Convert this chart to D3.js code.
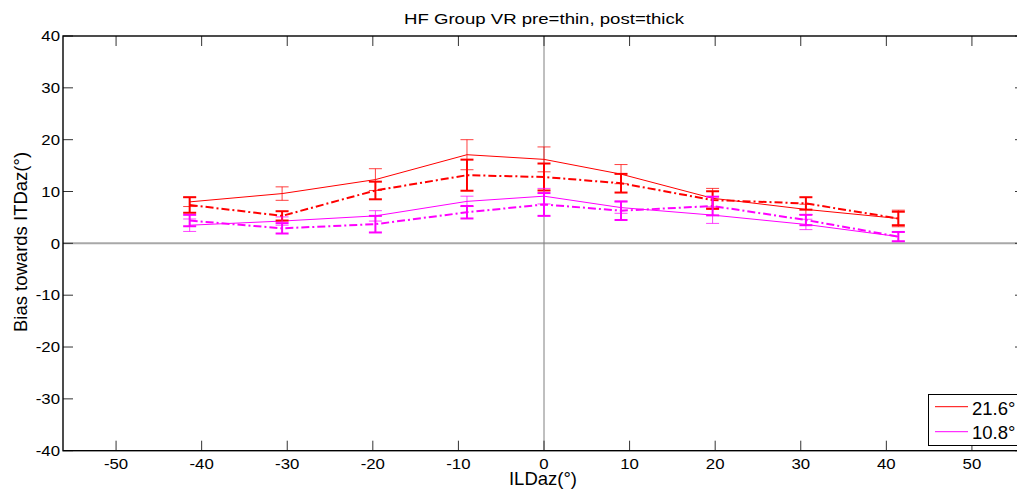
<!DOCTYPE html>
<html>
<head>
<meta charset="utf-8">
<script src="https://cdn.jsdelivr.net/npm/d3@7"></script>
<style>
  html, body { margin: 0; padding: 0; background: #fff; }
  svg { display: block; }
  text { font-family: "Liberation Sans", Arial, Helvetica, sans-serif; fill: #000; }
</style>
</head>
<body>
<svg id="chart" width="1017" height="495"></svg>
<script>
// ILD azimuths at which bias was measured
const ildAz = [-41.4, -30.6, -19.7, -9.0, 0, 9.0, 19.7, 30.6, 41.4];

// 21.6° condition: pre (thin solid) and post (thick dash-dot)
const pre216 = [8.0, 9.6, 12.3, 17.1, 16.2, 13.35, 8.7, 6.55, 4.8];
const pre216Err = [0.9, 1.3, 2.1, 2.9, 2.4, 1.85, 1.9, 1.0, 1.6];
const post216 = [7.4, 5.3, 10.2, 13.15, 12.8, 11.6, 8.35, 7.7, 4.8];
const post216Err = [1.5, 0.9, 1.7, 3.0, 2.6, 1.8, 1.7, 1.2, 1.3];

// 10.8° condition: pre (thin solid) and post (thick dash-dot)
const pre108 = [3.5, 4.3, 5.3, 8.1, 9.1, 6.9, 5.45, 3.65, 1.3];
const pre108Err = [1.2, 0.8, 1.0, 1.0, 1.5, 1.1, 1.6, 1.0, 0.9];
const post108 = [4.4, 2.9, 3.7, 6.0, 7.5, 6.3, 7.2, 4.5, 1.3];
const post108Err = [1.1, 1.0, 1.6, 1.2, 2.2, 1.8, 1.8, 1.0, 0.9];

// Axis ticks and labels
const xTicks = [-50, -40, -30, -20, -10, 0, 10, 20, 30, 40, 50];
const yTicks = [-40, -30, -20, -10, 0, 10, 20, 30, 40];
const legendLabels = ["21.6°", "10.8°"];
const titleText = "HF Group VR pre=thin, post=thick";
const xLabel = "ILDaz(°)";
const yLabel = "Bias towards ITDaz(°)";

const RED = "#ff0000", MAG = "#ff00ff";
const series = [
  { y: pre216, e: pre216Err, color: RED, w: 1, dash: null },
  { y: post216, e: post216Err, color: RED, w: 2, dash: "8,3,2,3" },
  { y: pre108, e: pre108Err, color: MAG, w: 1, dash: null },
  { y: post108, e: post108Err, color: MAG, w: 2, dash: "8,3,2,3" }
];

const svg = d3.select("#chart");
const plotLeft = 63, plotRight = 1025, plotTop = 36, plotBottom = 450.7;

const x = d3.scaleLinear().domain([-56.2, 56.2]).range([plotLeft, plotRight]);
const y = d3.scaleLinear().domain([-40, 40]).range([plotBottom, plotTop]);

svg.append("rect").attr("width", 1017).attr("height", 495).attr("fill", "#fff");

// Zero reference lines
svg.append("line")
  .attr("x1", plotLeft).attr("x2", plotRight)
  .attr("y1", y(0)).attr("y2", y(0))
  .attr("stroke", "#a8a8a8").attr("stroke-width", 2);
svg.append("line")
  .attr("x1", x(0)).attr("x2", x(0))
  .attr("y1", plotTop).attr("y2", plotBottom)
  .attr("stroke", "#808080").attr("stroke-width", 1);

// Tick marks pointing inward on all four sides
const tickLen = 10;
const tickG = svg.append("g").attr("stroke", "#333").attr("stroke-width", 1);
xTicks.forEach(t => {
  tickG.append("line").attr("x1", x(t)).attr("x2", x(t)).attr("y1", plotBottom).attr("y2", plotBottom - tickLen);
  tickG.append("line").attr("x1", x(t)).attr("x2", x(t)).attr("y1", plotTop).attr("y2", plotTop + tickLen);
});
yTicks.forEach(t => {
  tickG.append("line").attr("x1", plotLeft).attr("x2", plotLeft + tickLen).attr("y1", y(t)).attr("y2", y(t));
  tickG.append("line").attr("x1", plotRight).attr("x2", plotRight - tickLen).attr("y1", y(t)).attr("y2", y(t));
});

// Box around the axes
svg.append("rect")
  .attr("x", plotLeft).attr("y", plotTop)
  .attr("width", plotRight - plotLeft).attr("height", plotBottom - plotTop)
  .attr("fill", "none").attr("stroke", "#000").attr("stroke-width", 1.4);

// Tick labels (slightly wide glyphs)
const tickFont = 15, tickScale = 1.12;
xTicks.forEach(t => {
  svg.append("text")
    .attr("transform", `translate(${x(t)},469) scale(${tickScale},1)`)
    .attr("text-anchor", "middle").attr("font-size", tickFont)
    .text(t);
});
yTicks.forEach(t => {
  svg.append("text")
    .attr("transform", `translate(60,${y(t) + 5.3}) scale(${tickScale},1)`)
    .attr("text-anchor", "end").attr("font-size", tickFont)
    .text(t);
});

// Data lines
const line = d3.line().x((d, i) => x(ildAz[i])).y(d => y(d));
series.forEach(s => {
  svg.append("path")
    .datum(s.y)
    .attr("d", line)
    .attr("fill", "none")
    .attr("stroke", s.color)
    .attr("stroke-width", s.w)
    .attr("stroke-dasharray", s.dash);
});

// Error bars with caps
const capHalf = 6.5;
series.forEach(s => {
  const g = svg.append("g").attr("stroke", s.color).attr("stroke-width", s.w)
    .attr("stroke-opacity", s.w === 1 ? 0.75 : 1);
  s.y.forEach((v, i) => {
    const cx = x(ildAz[i]);
    const hi = y(v + s.e[i]), lo = y(v - s.e[i]);
    g.append("line").attr("x1", cx).attr("x2", cx).attr("y1", hi).attr("y2", lo);
    g.append("line").attr("x1", cx - capHalf).attr("x2", cx + capHalf).attr("y1", hi).attr("y2", hi);
    g.append("line").attr("x1", cx - capHalf).attr("x2", cx + capHalf).attr("y1", lo).attr("y2", lo);
  });
});

// Title and axis labels
svg.append("text")
  .attr("transform", "translate(544,24.3) scale(1.2,1)")
  .attr("text-anchor", "middle").attr("font-size", 15.5)
  .text(titleText);
svg.append("text")
  .attr("x", 543).attr("y", 485)
  .attr("text-anchor", "middle").attr("font-size", 18.5)
  .text(xLabel);
svg.append("text")
  .attr("transform", "translate(27,242) rotate(-90)")
  .attr("text-anchor", "middle").attr("font-size", 18.5)
  .text(yLabel);

// Legend
const leg = svg.append("g");
leg.append("rect")
  .attr("x", 928.5).attr("y", 394.5)
  .attr("width", 110).attr("height", 51)
  .attr("fill", "#fff").attr("stroke", "#000").attr("stroke-width", 1);
const legColors = [RED, MAG];
legendLabels.forEach((lab, i) => {
  const ly = 406.7 + i * 25;
  leg.append("line")
    .attr("x1", 935).attr("x2", 968).attr("y1", ly).attr("y2", ly)
    .attr("stroke", legColors[i]).attr("stroke-width", 1);
  leg.append("text")
    .attr("x", 972).attr("y", 415 + i * 24)
    .attr("font-size", 18.5)
    .text(lab);
});
</script>
</body>
</html>
